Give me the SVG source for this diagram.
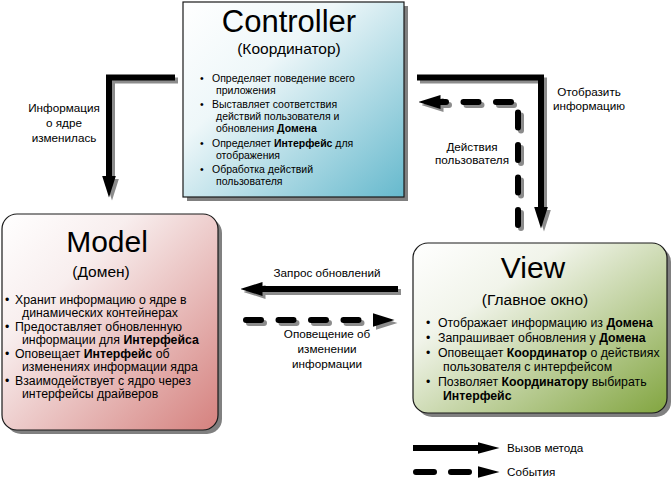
<svg xmlns="http://www.w3.org/2000/svg" width="671" height="479" viewBox="0 0 671 479">
<style>
text{font-family:"Liberation Sans",Arial,sans-serif;fill:#000}
.t{font-size:30px;text-anchor:middle}
.st{font-size:15.5px;text-anchor:middle}
.cb{font-size:10.5px}
.mb{font-size:12.3px}
.lb{font-size:11.7px;text-anchor:middle}
.lg{font-size:11.7px}
.b{font-weight:bold}
.box{stroke:#1a1a1a;stroke-width:1.2}
.sh{fill:#808080}
.ln{fill:none;stroke:#000;stroke-width:6}
.lns{fill:none;stroke:#8c8c8c;stroke-width:6}
.d{stroke-dasharray:15 17.5;stroke-linecap:round}
</style>
<defs>
<linearGradient id="gc" x1="0" y1="0" x2="1" y2="1">
<stop offset="0" stop-color="#ffffff"/>
<stop offset="0.35" stop-color="#eef7f9"/>
<stop offset="1" stop-color="#66b9cd"/>
</linearGradient>
<linearGradient id="gm" x1="0" y1="0" x2="1" y2="1">
<stop offset="0" stop-color="#ffffff"/>
<stop offset="0.3" stop-color="#f8eeee"/>
<stop offset="1" stop-color="#d5817e"/>
</linearGradient>
<linearGradient id="gv" x1="0" y1="0" x2="1" y2="1">
<stop offset="0" stop-color="#ffffff"/>
<stop offset="0.3" stop-color="#f1f4ea"/>
<stop offset="1" stop-color="#82a540"/>
</linearGradient>
<marker id="ah" markerUnits="userSpaceOnUse" viewBox="0 0 22 14" refX="0.5" refY="7" markerWidth="22" markerHeight="14" orient="auto">
<path d="M0,0 L22,7 L0,14 Z" fill="#000"/>
</marker>
<marker id="ahs" markerUnits="userSpaceOnUse" viewBox="0 0 22 14" refX="0.5" refY="7" markerWidth="22" markerHeight="14" orient="auto">
<path d="M0,0 L22,7 L0,14 Z" fill="#8c8c8c"/>
</marker>
<marker id="ahl" markerUnits="userSpaceOnUse" viewBox="0 0 22 12" refX="0.5" refY="6" markerWidth="22" markerHeight="12" orient="auto">
<path d="M0,0 L22,6 L0,12 Z" fill="#000"/>
</marker>
</defs>

<g id="connectors">
<g transform="translate(3,3)">
<path class="lns" d="M175 77.5 H109 V176" marker-end="url(#ahs)"/>
<path class="lns" d="M417 77.5 H541 V207" marker-end="url(#ahs)"/>
<path class="lns d" d="M518 225 V102 H440" marker-end="url(#ahs)"/>
<path class="lns" d="M398 289 H262" marker-end="url(#ahs)"/>
<path class="lns d" d="M246 320 H373" marker-end="url(#ahs)"/>
</g>
<path class="ln" d="M175 77.5 H109 V176" marker-end="url(#ah)"/>
<path class="ln" d="M417 77.5 H541 V207" marker-end="url(#ah)"/>
<path class="ln d" d="M518 225 V102 H440" marker-end="url(#ah)"/>
<path class="ln" d="M398 289 H262" marker-end="url(#ah)"/>
<path class="ln d" d="M246 320 H373" marker-end="url(#ah)"/>
<text class="lb" x="64" y="112">Информация</text>
<text class="lb" x="64" y="127">о ядре</text>
<text class="lb" x="64" y="142">изменилась</text>
<text class="lb" x="589" y="96">Отобразить</text>
<text class="lb" x="589" y="110">информацию</text>
<text class="lb" x="472" y="151">Действия</text>
<text class="lb" x="472" y="164">пользователя</text>
<text class="lb" x="327" y="277">Запрос обновлений</text>
<text class="lb" x="327" y="338">Оповещение об</text>
<text class="lb" x="327" y="353">изменении</text>
<text class="lb" x="327" y="368">информации</text>
</g>

<g id="controller">
<rect class="sh" x="187" y="6" width="221" height="195"/>
<rect class="box" x="183" y="2" width="221" height="195" fill="url(#gc)"/>
<text class="t" x="289" y="32" style="font-size:31px">Controller</text>
<text class="st" x="289" y="54">(Координатор)</text>
<g class="cb">
<text x="200" y="82">•</text><text x="212" y="82">Определяет поведение всего</text>
<text x="216" y="94">приложения</text>
<text x="200" y="108">•</text><text x="212" y="108">Выставляет соответствия</text>
<text x="216" y="120">действий пользователя и</text>
<text x="216" y="132">обновления <tspan class="b">Домена</tspan></text>
<text x="200" y="147">•</text><text x="212" y="147">Определяет <tspan class="b">Интерфейс</tspan> для</text>
<text x="216" y="159">отображения</text>
<text x="200" y="173">•</text><text x="212" y="173">Обработка действий</text>
<text x="216" y="185">пользователя</text>
</g>
</g>

<g id="model">
<rect class="sh" x="6" y="218" width="216" height="216" rx="15"/>
<rect class="box" x="2" y="214" width="216" height="216" rx="15" fill="url(#gm)"/>
<text class="t" x="107" y="252">Model</text>
<text class="st" x="101" y="277">(Домен)</text>
<g class="mb">
<text x="5" y="304">•</text><text x="15" y="304">Хранит информацию о ядре в</text>
<text x="22" y="317">динамических контейнерах</text>
<text x="5" y="331">•</text><text x="15" y="331">Предоставляет обновленную</text>
<text x="22" y="344">информации для <tspan class="b">Интерфейса</tspan></text>
<text x="5" y="358">•</text><text x="15" y="358">Оповещает <tspan class="b">Интерфейс</tspan> об</text>
<text x="22" y="371">изменениях информации ядра</text>
<text x="5" y="385">•</text><text x="15" y="385">Взаимодействует с ядро через</text>
<text x="22" y="398">интерфейсы драйверов</text>
</g>
</g>

<g id="view">
<rect class="sh" x="417" y="247" width="254" height="170" rx="15"/>
<rect class="box" x="413" y="243" width="254" height="170" rx="15" fill="url(#gv)"/>
<text class="t" x="533" y="278">View</text>
<text class="st" x="535" y="305">(Главное окно)</text>
<g class="mb">
<text x="426" y="327">•</text><text x="438" y="327">Отображает информацию из <tspan class="b">Домена</tspan></text>
<text x="426" y="342">•</text><text x="438" y="342">Запрашивает обновления у <tspan class="b">Домена</tspan></text>
<text x="426" y="357">•</text><text x="438" y="357">Оповещает <tspan class="b">Координатор</tspan> о действиях</text>
<text x="443" y="371">пользователя с интерфейсом</text>
<text x="426" y="386">•</text><text x="438" y="386">Позволяет <tspan class="b">Координатору</tspan> выбирать</text>
<text x="443" y="400" class="b">Интерфейс</text>
</g>
</g>

<g id="legend">
<path class="ln" d="M413 448 H478" marker-end="url(#ahl)"/>
<path class="ln" d="M416 472 H478" style="stroke-dasharray:18 17;stroke-linecap:round" marker-end="url(#ahl)"/>
<text class="lg" x="507" y="452">Вызов метода</text>
<text class="lg" x="507" y="476">События</text>
</g>
</svg>
